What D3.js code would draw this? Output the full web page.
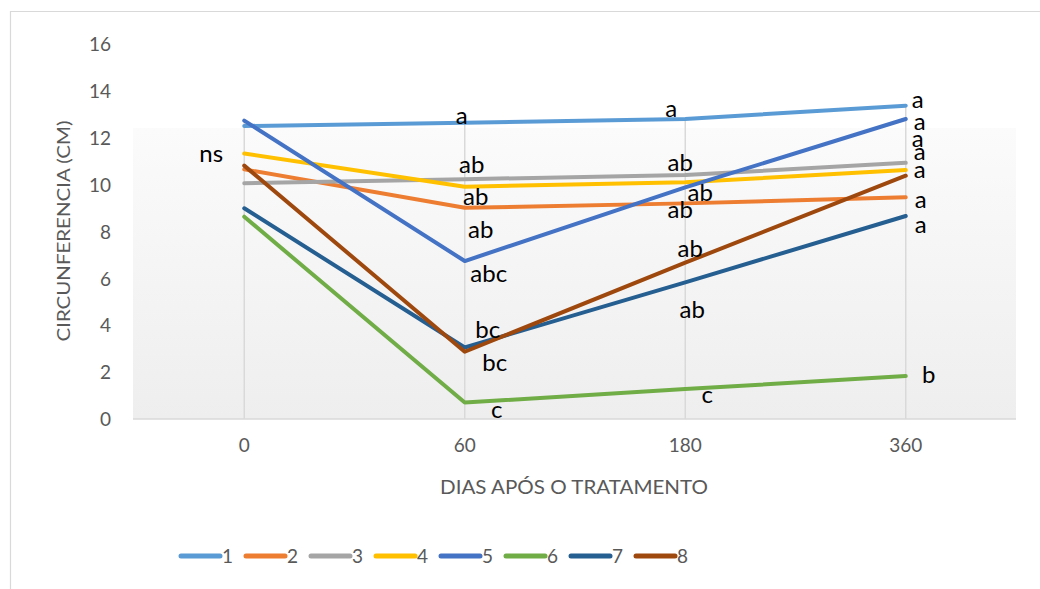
<!DOCTYPE html>
<html>
<head>
<meta charset="utf-8">
<script src="https://cdn.jsdelivr.net/npm/d3@7"></script>
<style>
  html, body { margin: 0; padding: 0; background: #ffffff; }
  svg { display: block; }
</style>
</head>
<body>
<svg id="chart" width="1040" height="589"></svg>
<script>
// ---------------- data ----------------
const categories = ["0", "60", "180", "360"];
const seriesNames = ["1", "2", "3", "4", "5", "6", "7", "8"];
const seriesColors = ["#5B9BD5", "#ED7D31", "#A5A5A5", "#FFC000", "#4472C4", "#70AD47", "#255E91", "#9E480E"];
const s1 = [12.50, 12.64, 12.80, 13.37];
const s2 = [10.65, 9.01, 9.20, 9.46];
const s3 = [10.06, 10.23, 10.41, 10.93];
const s4 = [11.33, 9.91, 10.10, 10.62];
const s5 = [12.73, 6.74, 9.88, 12.80];
const s6 = [8.63, 0.70, 1.28, 1.83];
const s7 = [8.99, 3.05, 5.83, 8.66];
const s8 = [10.81, 2.87, 6.67, 10.38];
const seriesValues = [s1, s2, s3, s4, s5, s6, s7, s8];
const yTicks = [0, 2, 4, 6, 8, 10, 12, 14, 16];

// significance letters: category, value (anchor in data units), dx, text
const labelCats  = ["0", "60", "60", "60", "60", "60", "60", "60", "60",
                    "180", "180", "180", "180", "180", "180", "180",
                    "360", "360", "360", "360", "360", "360", "360", "360"];
const labelVals  = [10.98, 12.59, 10.51, 9.13, 7.72, 5.86, 3.47, 2.05, 0.04,
                    12.90, 10.58, 9.30, 8.59, 6.92, 4.31, 0.68,
                    13.28, 12.33, 11.62, 11.05, 10.30, 9.00, 7.94, 1.54];
const labelDx    = [-33, -3, 7, 11, 16, 24, 23, 30, 32,
                    -14, -5, 15, -5, 5, 7, 22,
                    12, 14, 12, 14, 14, 15, 15, 23];
const labelTexts = ["ns", "a", "ab", "ab", "ab", "abc", "bc", "bc", "c",
                    "a", "ab", "ab", "ab", "ab", "ab", "c",
                    "a", "a", "a", "a", "a", "a", "a", "b"];

// ---------------- layout ----------------
const svg = d3.select("#chart");
const plotLeft = 133, plotRight = 1016, plotTop = 128, plotBottom = 419;
const FONT = "Lato, 'Open Sans', sans-serif";

const x = d3.scaleBand().domain(categories).range([134, 1016]);
const xc = c => x(c) + x.bandwidth() / 2;
const y = d3.scaleLinear().domain([0, 16]).range([419, 44]);

// outer border
svg.append("path")
  .attr("d", "M10.5,589 L10.5,11.5 L1040,11.5")
  .attr("fill", "none").attr("stroke", "#d9d9d9").attr("stroke-width", 1.2);

// plot area gradient
const defs = svg.append("defs");
const grad = defs.append("linearGradient").attr("id", "pg")
  .attr("x1", 0).attr("y1", 0).attr("x2", 0).attr("y2", 1);
grad.append("stop").attr("offset", "0%").attr("stop-color", "#fbfbfb");
grad.append("stop").attr("offset", "100%").attr("stop-color", "#eeeeee");
svg.append("rect")
  .attr("x", plotLeft).attr("y", plotTop)
  .attr("width", plotRight - plotLeft).attr("height", plotBottom - plotTop)
  .attr("fill", "url(#pg)");

// drop lines (from max value at each category down to axis)
categories.forEach((c, i) => {
  const mx = d3.max(seriesValues, s => s[i]);
  svg.append("line")
    .attr("x1", xc(c)).attr("x2", xc(c))
    .attr("y1", y(mx)).attr("y2", y(0))
    .attr("stroke", "#d9d9d9").attr("stroke-width", 1.5);
});

// baseline axis
svg.append("line")
  .attr("x1", plotLeft).attr("x2", plotRight)
  .attr("y1", y(0)).attr("y2", y(0))
  .attr("stroke", "#d9d9d9").attr("stroke-width", 1.5);

// y axis ticks
const yAxis = svg.append("g").attr("transform", "translate(111,0)")
  .call(d3.axisLeft(y).tickValues(yTicks).tickSize(0).tickPadding(0));
yAxis.select(".domain").remove();
yAxis.selectAll("text")
  .attr("font-family", FONT).attr("font-size", 19).attr("fill", "#595959")
  .attr("dy", "0.35em");

// x axis ticks
const xAxis = svg.append("g").attr("transform", "translate(0,438)")
  .call(d3.axisBottom(x).tickSize(0).tickPadding(0));
xAxis.select(".domain").remove();
xAxis.selectAll("text")
  .attr("font-family", FONT).attr("font-size", 19).attr("fill", "#595959")
  .attr("dy", "0.71em");

// axis titles
svg.append("text")
  .attr("x", 574).attr("y", 494)
  .attr("text-anchor", "middle")
  .attr("font-family", FONT).attr("font-size", 19).attr("fill", "#595959")
  .attr("textLength", 268).attr("lengthAdjust", "spacingAndGlyphs")
  .text("DIAS APÓS O TRATAMENTO");
svg.append("text")
  .attr("transform", "translate(70,231) rotate(-90)")
  .attr("text-anchor", "middle")
  .attr("font-family", FONT).attr("font-size", 18).attr("fill", "#595959")
  .attr("textLength", 221).attr("lengthAdjust", "spacingAndGlyphs")
  .text("CIRCUNFERENCIA (CM)");

// series lines
const line = d3.line().x((d, i) => xc(categories[i])).y(d => y(d));
seriesValues.forEach((s, k) => {
  svg.append("path")
    .datum(s)
    .attr("d", line)
    .attr("fill", "none")
    .attr("stroke", seriesColors[k])
    .attr("stroke-width", 4)
    .attr("stroke-linejoin", "round")
    .attr("stroke-linecap", "round");
});

// significance letters
labelTexts.forEach((t, i) => {
  svg.append("text")
    .attr("x", xc(labelCats[i]) + labelDx[i])
    .attr("y", y(labelVals[i]))
    .attr("text-anchor", "middle")
    .attr("font-family", FONT).attr("font-size", 24).attr("fill", "#000000")
    .text(t);
});

// legend
const legend = svg.append("g");
seriesNames.forEach((n, k) => {
  const lx = 181 + k * 65;
  legend.append("line")
    .attr("x1", lx).attr("x2", lx + 39)
    .attr("y1", 556).attr("y2", 556)
    .attr("stroke", seriesColors[k]).attr("stroke-width", 5)
    .attr("stroke-linecap", "round");
  legend.append("text")
    .attr("x", lx + 41).attr("y", 563)
    .attr("font-family", FONT).attr("font-size", 19).attr("fill", "#595959")
    .text(n);
});
</script>
</body>
</html>
